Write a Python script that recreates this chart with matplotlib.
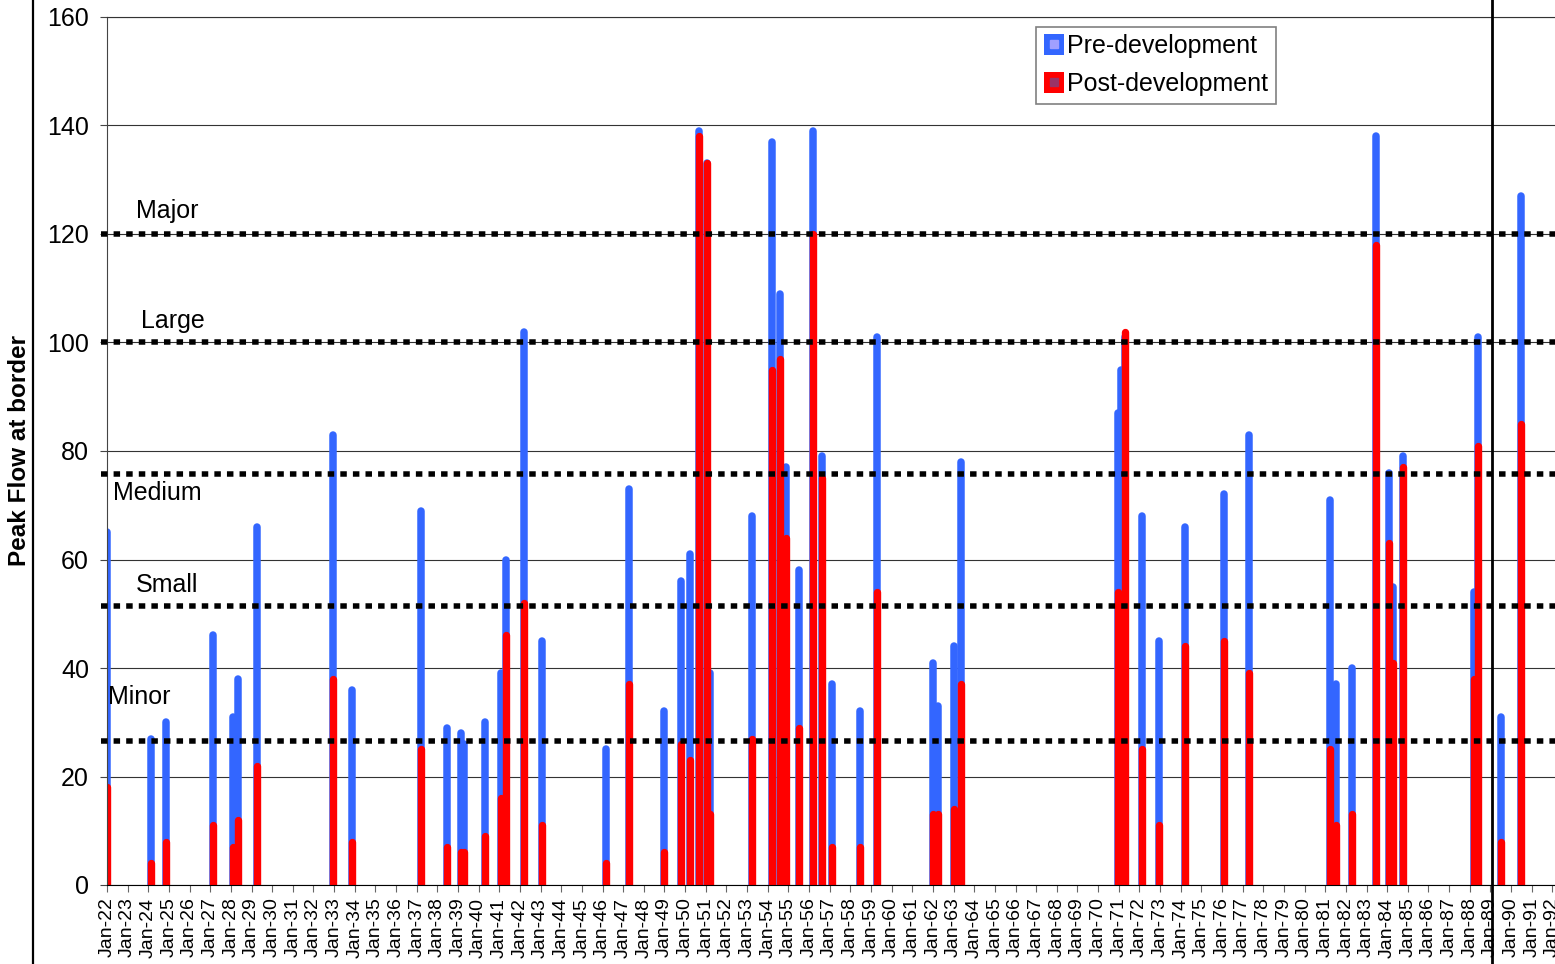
import matplotlib.pyplot as plt
from matplotlib.lines import Line2D
from matplotlib.patches import Patch
from matplotlib.legend_handler import HandlerTuple

plt.rcParams['font.family'] = ['Liberation Sans', 'DejaVu Sans']

# event dates (decimal year, 19xx) and peak flows
event_year = [22.0, 24.13, 24.87, 27.13, 28.12, 28.36, 29.28, 32.96, 33.88,
              37.21, 38.48, 39.13, 39.30, 40.30, 41.08, 41.32, 42.21, 43.05,
              46.16, 47.26, 48.97, 49.81, 50.23, 50.67, 51.04, 51.20, 53.25,
              54.19, 54.59, 54.88, 55.51, 56.17, 56.61, 57.09, 58.46, 59.27,
              62.01, 62.26, 63.03, 63.37, 70.97, 71.13, 71.30, 72.11, 72.94,
              74.20, 76.11, 77.30, 81.22, 81.54, 82.32, 83.48, 84.07, 84.26,
              84.75, 88.21, 88.41, 89.49, 90.49]
pre_peak = [65.0, 27.0, 30.0, 46.0, 31.0, 38.0, 66.0, 83.0, 36.0,
            69.0, 29.0, 28.0, 26.0, 30.0, 39.0, 60.0, 102.0, 45.0,
            25.0, 73.0, 32.0, 56.0, 61.0, 139.0, 133.0, 39.0, 68.0,
            137.0, 109.0, 77.0, 58.0, 139.0, 79.0, 37.0, 32.0, 101.0,
            41.0, 33.0, 44.0, 78.0, 87.0, 95.0, 101.0, 68.0, 45.0,
            66.0, 72.0, 83.0, 71.0, 37.0, 40.0, 138.0, 76.0, 55.0,
            79.0, 54.0, 101.0, 31.0, 127.0]
post_peak = [18.0, 4.0, 8.0, 11.0, 7.0, 12.0, 22.0, 38.0, 8.0,
             25.0, 7.0, 6.0, 6.0, 9.0, 16.0, 46.0, 52.0, 11.0,
             4.0, 37.0, 6.0, 26.0, 23.0, 138.0, 133.0, 13.0, 27.0,
             95.0, 97.0, 64.0, 29.0, 120.0, 75.0, 7.0, 7.0, 54.0,
             13.0, 13.0, 14.0, 37.0, 54.0, 50.0, 102.0, 25.0, 11.0,
             44.0, 45.0, 39.0, 25.0, 11.0, 13.0, 118.0, 63.0, 41.0,
             77.0, 38.0, 81.0, 8.0, 85.0]

level_names = ['Minor', 'Small', 'Medium', 'Large', 'Major']
level_flow = [26.5, 51.5, 75.7, 100.0, 120.0]

years = list(range(22, 93))
year_labels = ['Jan-%02d' % y for y in years]

blue = '#3366ff'
red = '#ff0000'

W, H = 1555, 964
fig = plt.figure(figsize=(W / 100, H / 100), dpi=100)
ax = fig.add_axes([107 / W, 79 / H, 1466 / W, 868 / H])
ax.set_xlim(22, 93)
ax.set_ylim(0, 160)

ax.yaxis.grid(True, color='#333333', lw=0.8)
ax.set_axisbelow(True)

bars_pre = ax.vlines(event_year, 0, pre_peak, color=blue, lw=5.4, zorder=2)
bars_pre.set_capstyle('round')
bars_post = ax.vlines(event_year, 0, post_peak, color=red, lw=5.3, zorder=2.5)
bars_post.set_capstyle('round')

for lv in level_flow:
    ax.axhline(lv, xmin=-0.004, xmax=1, color='black', lw=3.96,
               linestyle=(0, (1.18, 1.11)), clip_on=False, zorder=3)

label_x = [22.06, 23.40, 22.31, 23.65, 23.40]
label_y = [33.4, 54.1, 71.0, 102.7, 122.9]
for name, lx, ly in zip(level_names, label_x, label_y):
    ax.text(lx, ly, name, fontsize=18, ha='left', va='baseline', zorder=4)

ax.axvline(89.07, ymin=-0.1, ymax=1.1, color='black', lw=2, clip_on=False,
           zorder=5)
fig.add_artist(Line2D([33 / W, 33 / W], [0, 1], transform=fig.transFigure,
                      color='black', lw=1.6))

ax.set_yticks(range(0, 161, 20))
ax.set_xticks(years)
ax.set_xticklabels(year_labels, rotation=90, fontsize=14, va='top')
ax.tick_params(axis='y', labelsize=18, length=5, color='#444444', pad=8)
ax.tick_params(axis='x', length=5, color='#666666', pad=4)

ax.spines['right'].set_visible(False)
ax.spines['top'].set_color('#333333')
ax.spines['top'].set_linewidth(0.8)
ax.spines['left'].set_color('#444444')
ax.spines['bottom'].set_color('black')

ax.set_ylabel('Peak Flow at border', fontsize=17.5, fontweight='bold',
              va='center', ha='center')
ax.yaxis.set_label_coords(-87 / 1466, 0.501)

handles = [(Patch(fc=blue, ec='none'),
            Line2D([], [], marker='s', ms=5.5, color='#a0a0ff', ls='none')),
           (Patch(fc=red, ec='none'),
            Line2D([], [], marker='s', ms=5.5, color='#993366', ls='none'))]
leg = ax.legend(handles, ['Pre-development', 'Post-development'],
                handler_map={tuple: HandlerTuple(ndivide=1, pad=0)},
                loc='upper left',
                bbox_to_anchor=((1036 - 107) / 1466, (885 - 27) / 868),
                borderaxespad=0, fontsize=18, fancybox=False, framealpha=1,
                edgecolor='#808080', handlelength=0.8, handleheight=0.9,
                handletextpad=0.15, borderpad=0.3, labelspacing=0.55)
leg.get_frame().set_linewidth(1.2)
leg.set_zorder(6)

fig.savefig('out.png', dpi=100)
